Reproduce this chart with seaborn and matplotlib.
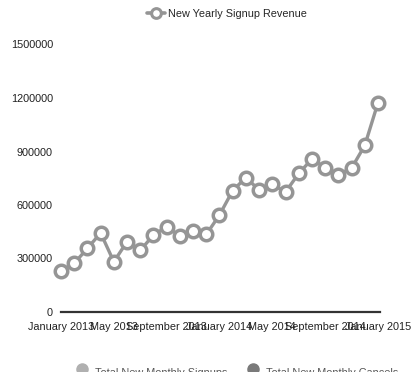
import matplotlib
matplotlib.use("Agg")
import matplotlib.pyplot as plt
from matplotlib.lines import Line2D
import numpy as np
import pandas as pd
import seaborn as sns

# Monthly revenue from new yearly signups, Jan 2013 .. Jan 2015
months = pd.date_range("2013-01-01", "2015-01-01", freq="MS")
revenue = [230000, 273000, 357000, 443000, 282000, 394000, 345000, 432000,
           478000, 426000, 454000, 435000, 544000, 681000, 754000, 684000,
           715000, 673000, 777000, 858000, 810000, 771000, 807000, 934000,
           1174000]
tick_months = [0, 4, 8, 12, 16, 20, 24]
tick_labels = ["January 2013", "May 2013", "September 2013", "January 2014",
               "May 2014", "September 2014", "January 2015"]
y_ticks = [0, 300000, 600000, 900000, 1200000, 1500000]
series_name = "New Yearly Signup Revenue"
bottom_series = ["Total New Monthly Signups", "Total New Monthly Cancels"]
bottom_colors = ["#b0b0b0", "#7a7a7a"]

sns.set_theme(style="white")
plt.rcParams["font.family"] = ["Liberation Sans", "DejaVu Sans"]
FS = 7.8
LINE = "#959595"
W, H = 414, 372

df = pd.DataFrame({"idx": np.arange(len(months)), "revenue": revenue})

fig = plt.figure(figsize=(W / 100, H / 100), dpi=100)
ax = fig.add_axes([61 / W, 1 - 312 / H, (380 - 61) / W, (312 - 44.5) / H])

sns.lineplot(data=df, x="idx", y="revenue", ax=ax, color=LINE, linewidth=2.4,
             marker="o", markersize=9, markerfacecolor="white",
             markeredgecolor=LINE, markeredgewidth=2.5, clip_on=False)

ax.set_xlim(0, 24 * (380 - 61) / (378 - 61))
ax.set_ylim(0, 1500000)
ax.set_xticks(tick_months)
ax.set_xticklabels(tick_labels, fontsize=FS, color="#222222")
ax.set_yticks(y_ticks)
ax.set_yticklabels([str(v) for v in y_ticks], fontsize=FS, color="#222222")
ax.tick_params(axis="y", length=0, pad=5.8)
ax.tick_params(axis="x", length=0, pad=7)
ax.set_xlabel("")
ax.set_ylabel("")
for side in ["top", "right", "left"]:
    ax.spines[side].set_visible(False)
ax.spines["bottom"].set_color("#333333")
ax.spines["bottom"].set_linewidth(1.6)
ax.grid(False)

# Top legend
handle = Line2D([], [], color=LINE, linewidth=2.6, marker="o", markersize=7,
                markerfacecolor="white", markeredgecolor=LINE, markeredgewidth=2.2)
fig.legend([handle], [series_name], loc="center", bbox_to_anchor=(227 / W, 1 - 14 / H),
           frameon=False, fontsize=FS, handlelength=1.6, handletextpad=0.3)

# Bottom legend, running past the lower edge of the canvas
for (mx, tx), label, col in zip([(82, 95), (253, 266)], bottom_series, bottom_colors):
    fig.add_artist(Line2D([mx / W], [1 - 369 / H], transform=fig.transFigure,
                          linestyle="none", marker="o", markersize=8, color=col))
    fig.text(tx / W, 1 - 373 / H, label, fontsize=FS, color="#555555",
             ha="left", va="center")

fig.savefig("out.png", dpi=100)
